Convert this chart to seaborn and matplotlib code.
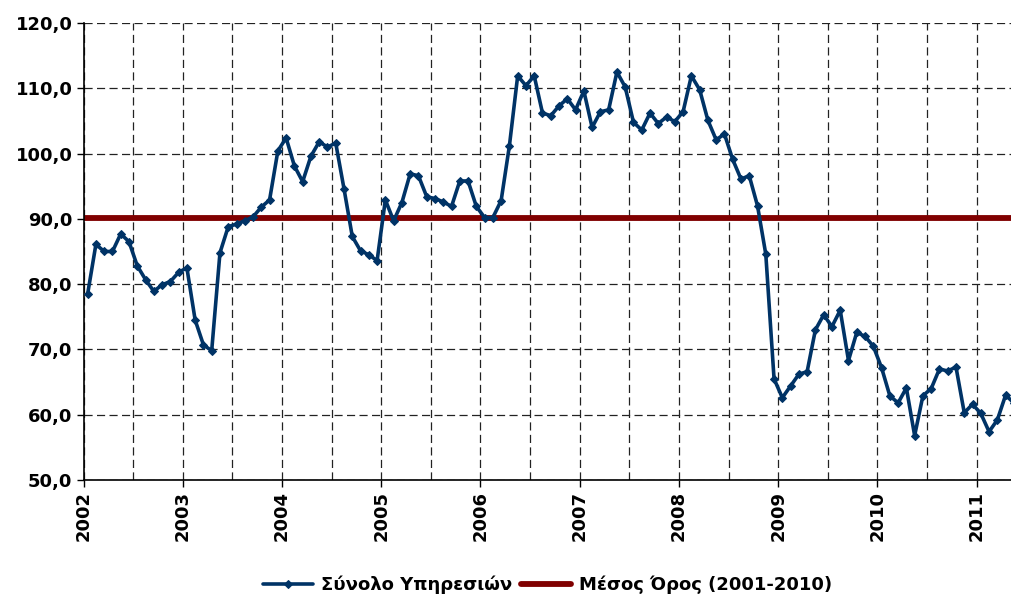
import pandas as pd
import matplotlib
matplotlib.use('Agg')
import matplotlib.pyplot as plt
import seaborn as sns

# monthly index values, Jan 2002 - May 2011
years = [2002] * 12 + [2003] * 12 + [2004] * 12 + [2005] * 12 + [2006] * 12 + \
        [2007] * 12 + [2008] * 12 + [2009] * 12 + [2010] * 12 + [2011] * 5
months = list(range(1, 13)) * 9 + [1, 2, 3, 4, 5]
services = [
    78.5, 86.1, 85.0, 85.0, 87.7, 86.5, 82.8, 80.7, 78.9, 79.9, 80.4, 81.8,      # 2002
    82.5, 74.5, 70.7, 69.8, 84.8, 88.8, 89.2, 89.7, 90.3, 91.8, 92.9, 100.4,    # 2003
    102.4, 98.1, 95.7, 99.6, 101.8, 101.0, 101.6, 94.6, 87.3, 85.1, 84.5, 83.6, # 2004
    92.9, 89.7, 92.5, 96.9, 96.6, 93.4, 93.1, 92.6, 91.9, 95.8, 95.8, 91.9,     # 2005
    90.2, 90.2, 92.8, 101.2, 111.9, 110.4, 111.9, 106.2, 105.8, 107.3, 108.4, 106.7,  # 2006
    109.6, 104.0, 106.4, 106.7, 112.5, 110.2, 104.8, 103.6, 106.2, 104.6, 105.6, 104.9,  # 2007
    106.4, 111.9, 109.8, 105.1, 102.1, 103.0, 99.1, 96.1, 96.6, 92.0, 84.6, 65.5,  # 2008
    62.6, 64.4, 66.2, 66.6, 73.0, 75.3, 73.5, 76.0, 68.3, 72.6, 72.0, 70.5,     # 2009
    67.2, 62.9, 61.8, 64.1, 56.8, 62.9, 64.0, 67.0, 66.7, 67.3, 60.3, 61.6,     # 2010
    60.2, 57.4, 59.2, 63.0, 61.8,                                               # 2011
]
mean_value = 90.2

series_label = 'Σύνολο Υπηρεσιών'
mean_label = 'Μέσος Όρος (2001-2010)'
year_ticks = list(range(2002, 2012))
y_ticks = [50, 60, 70, 80, 90, 100, 110, 120]

df = pd.DataFrame({'year': years, 'month': months, 'value': services})
df['t'] = df['year'] + (df['month'] - 0.5) / 12

sns.set_style('white')
plt.rcParams['font.family'] = ['DejaVu Sans']
plt.rcParams['font.weight'] = 'bold'
plt.rcParams['text.color'] = 'black'
plt.rcParams['xtick.color'] = 'black'
plt.rcParams['ytick.color'] = 'black'

fig = plt.figure(figsize=(10.11, 6), dpi=100)
ax = fig.add_axes([0.0826, 0.2, 0.9174, 0.7617])

ax.axhline(mean_value, color='#800000', lw=4.2, zorder=2, label=mean_label)
sns.lineplot(data=df, x='t', y='value', ax=ax, color='#003366', lw=2.6,
             marker='D', markersize=4.5, markeredgecolor='#003366',
             label=series_label, zorder=3)

ax.set_xticks(year_ticks)
ax.set_xticks([y + 0.5 for y in year_ticks], minor=True)
ax.set_xticklabels([str(y) for y in year_ticks], rotation=90, fontsize=13, fontweight='bold')
ax.set_yticks(y_ticks)
ax.set_yticklabels([f'{v:.1f}'.replace('.', ',') for v in y_ticks], fontsize=13, fontweight='bold')
ax.set_xlim(2002, 2011.346)
ax.set_ylim(50, 120)
ax.set_xlabel('')
ax.set_ylabel('')

ax.grid(True, which='both', axis='x', color='#222222', ls=(0, (6.5, 3.5)), lw=0.9)
ax.grid(True, which='major', axis='y', color='#222222', ls=(0, (6.5, 3.5)), lw=0.9)
ax.tick_params(axis='both', which='major', direction='out', length=5, width=1, color='black',
               labelcolor='black', left=True, bottom=True, pad=3)
ax.tick_params(axis='x', which='minor', length=0)

for side in ['top', 'right']:
    ax.spines[side].set_visible(False)
for side in ['left', 'bottom']:
    ax.spines[side].set_color('black')
    ax.spines[side].set_linewidth(1.2)

handles, labels = ax.get_legend_handles_labels()
order = [labels.index(series_label), labels.index(mean_label)]
ax.legend([handles[i] for i in order], [labels[i] for i in order],
          loc='center', bbox_to_anchor=(0.5, -0.23), ncol=2, frameon=False,
          prop={'size': 13, 'weight': 'bold'}, handlelength=2.8,
          handletextpad=0.4, columnspacing=0.5, labelcolor='black')

plt.savefig('out.png', dpi=100)
